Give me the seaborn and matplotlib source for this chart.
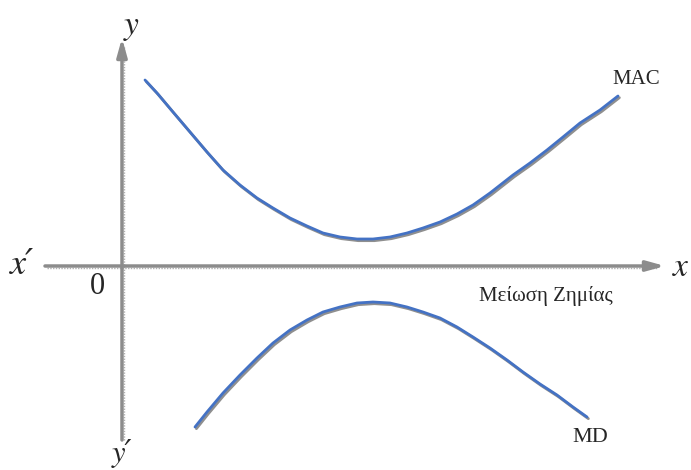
import numpy as np
import pandas as pd
import seaborn as sns
import matplotlib.pyplot as plt
import matplotlib.patheffects as pe

# MAC curve (U shape above the x axis)
mac_x = [0.46, 0.70, 1.02, 1.36, 1.70, 2.02, 2.36, 2.70, 3.02, 3.36, 3.70, 4.02, 4.36, 4.70, 5.02,
         5.36, 5.70, 6.02, 6.36, 6.70, 7.02, 7.36, 7.82, 8.16, 8.50, 8.82, 9.16, 9.56, 9.92]
mac_y = [3.72, 3.46, 3.08, 2.68, 2.28, 1.92, 1.62, 1.36, 1.16, 0.96, 0.80, 0.66, 0.58, 0.54, 0.54,
         0.58, 0.66, 0.76, 0.88, 1.04, 1.22, 1.46, 1.82, 2.06, 2.32, 2.58, 2.86, 3.12, 3.40]

# MD curve (inverted U below the x axis)
md_x = [1.46, 1.70, 2.02, 2.36, 2.70, 3.02, 3.36, 3.70, 4.02, 4.36, 4.70, 5.02, 5.36,
        5.70, 6.02, 6.36, 6.70, 7.02, 7.36, 7.70, 8.02, 8.36, 8.70, 9.02, 9.30]
md_y = [-3.22, -2.92, -2.54, -2.18, -1.84, -1.54, -1.28, -1.08, -0.92, -0.82, -0.74, -0.72, -0.74,
        -0.82, -0.92, -1.04, -1.22, -1.42, -1.64, -1.88, -2.12, -2.36, -2.58, -2.82, -3.02]

mac = pd.DataFrame({"x": mac_x, "y": mac_y})
md = pd.DataFrame({"x": md_x, "y": md_y})

sns.set_theme(style="white")

fig = plt.figure(figsize=(6.91, 4.70), dpi=100)
ax = fig.add_axes([0, 0, 1, 1])
ax.set_xlim(-2.44, 11.38)
ax.set_ylim(-4.08, 5.32)
ax.axis("off")

# axes drawn as gray arrows with a dotted shadow
axis_grey = "#8c8c8c"
ax.annotate("", xy=(10.86, 0), xytext=(-1.54, 0),
            arrowprops=dict(arrowstyle="-|>,head_length=0.9,head_width=0.25",
                            color=axis_grey, lw=2.5, shrinkA=0, shrinkB=0))
ax.annotate("", xy=(0, 4.56), xytext=(0, -3.48),
            arrowprops=dict(arrowstyle="-|>,head_length=0.9,head_width=0.25",
                            color=axis_grey, lw=2.5, shrinkA=0, shrinkB=0))
ax.plot([-1.5, 10.7], [-0.04, -0.04], color="#b0b0b0", lw=1, ls=(0, (1, 1)))
ax.plot([0.04, 0.04], [-3.48, 4.4], color="#b0b0b0", lw=1, ls=(0, (1, 1)))

shadow = [pe.SimpleLineShadow(offset=(1, -1.2), shadow_color="#444444", alpha=0.6), pe.Normal()]
sns.lineplot(data=mac, x="x", y="y", sort=False, color="#4472c4", lw=2, ax=ax)
sns.lineplot(data=md, x="x", y="y", sort=False, color="#4472c4", lw=2, ax=ax)
for line in ax.lines[-2:]:
    line.set_path_effects(shadow)

serif = "Liberation Serif"
math = dict(family=["STIXGeneral", "DejaVu Serif"], style="italic", ha="center", va="center")
ax.text(0.18, 4.8, "y", fontsize=24, **math)
ax.text(-2.0, 0.02, "x′", fontsize=26, **math)
ax.text(-0.5, -0.4, "0", fontsize=22, ha="center", va="center", family=serif)
ax.text(11.16, -0.04, "x", fontsize=24, **math)
ax.text(0.0, -3.76, "y′", fontsize=22, **math)
ax.text(10.28, 3.72, "MAC", fontsize=15, ha="center", va="center", family=serif)
ax.text(9.36, -3.44, "MD", fontsize=16, ha="center", va="center", family=serif)
ax.text(8.48, -0.6, "Μείωση Ζημίας", fontsize=15, ha="center", va="center", family=serif)

plt.savefig("out.png", dpi=100)
